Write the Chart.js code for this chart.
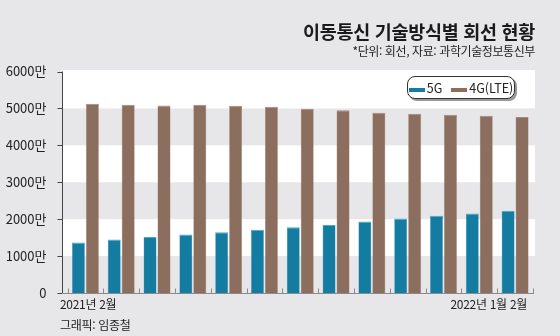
<!DOCTYPE html>
<html lang="ko">
<head>
<meta charset="utf-8">
<script src="https://cdn.jsdelivr.net/npm/chart.js@4"></script>
<style>
  html, body { margin: 0; padding: 0; }
  body { width: 560px; height: 336px; background: #e7e7e9; position: relative; overflow: hidden;
         font-family: "Noto Sans CJK KR", sans-serif; color: #222; }
  #wrap { position: absolute; left: 0; top: 0; width: 560px; height: 336px; }
  .txt { position: absolute; white-space: nowrap; }
  #title { right: 25px; top: 18px; font-size: 18.5px; font-weight: 700; letter-spacing: -0.3px; color: #1a1a1a; }
  #unit { right: 25px; top: 42px; font-size: 12px; letter-spacing: -0.4px; color: #222; }
  .xlab { top: 295px; font-size: 12px; font-family: "Liberation Sans Narrow", "Noto Sans CJK KR", sans-serif; letter-spacing: -0.3px; }
  #credit { left: 60px; top: 316px; font-size: 12px; letter-spacing: -0.3px; }
  #legend { position: absolute; left: 407px; top: 76px; width: 106px; height: 21px; background: #fff;
            border: 1.5px solid #333; border-radius: 8px; box-shadow: 2px 2px 0 #9a9a9a;
            display: flex; align-items: center; justify-content: center; gap: 9px;
            font-family: "Liberation Sans Narrow", "Noto Sans CJK KR", sans-serif; font-size: 12.5px; }
  #legend span.sw { display: inline-block; width: 16px; height: 4px; margin-right: 2px; vertical-align: middle; }
</style>
</head>
<body>
<div id="wrap"><canvas id="barChart" width="560" height="336"></canvas></div>
<div class="txt" id="title">이동통신 기술방식별 회선 현황</div>
<div class="txt" id="unit">*단위: 회선, 자료: 과학기술정보통신부</div>
<div class="txt xlab" id="xfirst"></div>
<div class="txt xlab" id="xlast"></div>
<div class="txt" id="credit">그래픽: 임종철</div>
<div id="legend"></div>
<script>
// 월별 회선 수 (단위: 만 회선)
const months = ['2021년 2월', '3월', '4월', '5월', '6월', '7월', '8월', '9월', '10월', '11월', '12월', '2022년 1월', '2월'];
const lines5G = [1366, 1448, 1515, 1584, 1648, 1714, 1781, 1843, 1935, 2018, 2091, 2156, 2227];
const linesLTE = [5128, 5102, 5076, 5100, 5074, 5048, 4994, 4948, 4886, 4858, 4830, 4804, 4768];
const yTicks = [0, 1000, 2000, 3000, 4000, 5000, 6000];

const seriesNames = ['5G', '4G(LTE)'];
const seriesColors = ['#147ba1', '#8b6e5d'];
const seriesBorders = ['#4aa9cf', '#a4887a'];

// 배경 흰 영역 + 회색 띠, 축선과 눈금
const framePlugin = {
    id: 'frame',
    beforeDatasetsDraw(chart) {
        const ctx = chart.ctx;
        const area = chart.chartArea;
        const y = chart.scales.y;
        const left = area.left - 5.5;
        const right = area.right + 2;
        ctx.save();
        ctx.fillStyle = '#ffffff';
        ctx.fillRect(left, y.getPixelForValue(6000) - 1.5, right - left, area.bottom - y.getPixelForValue(6000) + 1.5);
        ctx.fillStyle = '#e7e7e9';
        for (let i = 0; i < yTicks.length - 1; i += 2) {
            const top = y.getPixelForValue(yTicks[i + 1]);
            const bot = y.getPixelForValue(yTicks[i]);
            ctx.fillRect(left, top, right - left, bot - top);
        }
        ctx.restore();
    },
    afterDatasetsDraw(chart) {
        const ctx = chart.ctx;
        const area = chart.chartArea;
        const y = chart.scales.y;
        const left = Math.round(area.left - 5.5) + 0.5;
        ctx.save();
        ctx.lineWidth = 1;
        // y축
        ctx.strokeStyle = '#444';
        ctx.beginPath();
        ctx.moveTo(left, y.getPixelForValue(6000));
        ctx.lineTo(left, area.bottom);
        for (const v of yTicks) {
            const py = Math.round(y.getPixelForValue(v)) + 0.5;
            ctx.moveTo(left - 5, py);
            ctx.lineTo(left, py);
        }
        ctx.stroke();
        // x축과 월 경계 눈금
        ctx.strokeStyle = '#8a8a8a';
        const base = Math.round(area.bottom) + 0.5;
        ctx.beginPath();
        ctx.moveTo(left, base);
        ctx.lineTo(area.right + 1, base);
        const step = (area.right - area.left) / months.length;
        for (let i = 0; i <= months.length; i++) {
            const px = Math.round(area.left + i * step) + 0.5;
            ctx.moveTo(px, base);
            ctx.lineTo(px, base - 5);
        }
        ctx.stroke();
        ctx.restore();
    }
};

let ctx = document.getElementById('barChart').getContext('2d');
let chart = new Chart(ctx, {
    type: 'bar',
    data: {
        labels: months,
        datasets: [lines5G, linesLTE].map((d, i) => ({
            label: seriesNames[i],
            data: d,
            backgroundColor: seriesColors[i],
            borderColor: seriesBorders[i],
            borderWidth: { top: 1, left: 0.5, right: 0.5, bottom: 0 },
            borderSkipped: 'bottom',
            categoryPercentage: 0.78,
            barPercentage: 0.93
        }))
    },
    options: {
        responsive: false,
        animation: false,
        layout: { padding: { left: 0, top: 71.5, right: 27, bottom: 43 } },
        plugins: {
            legend: { display: false },
            tooltip: { enabled: false }
        },
        scales: {
            x: { display: false },
            y: {
                min: 0,
                max: 6000,
                afterFit: s => { s.width = 67.5; },
                afterBuildTicks: s => { s.ticks = yTicks.map(v => ({ value: v })); },
                grid: { display: false },
                border: { display: false },
                ticks: {
                    padding: 13,
                    color: '#222',
                    font: { family: '"Liberation Sans Narrow", "Noto Sans CJK KR", sans-serif', size: 13 },
                    callback: v => v === 0 ? '0' : v + '만'
                }
            }
        }
    },
    plugins: [framePlugin]
});

// 범례와 x축 양 끝 표기
let legend = document.getElementById('legend');
legend.innerHTML = chart.data.datasets.map(ds =>
    '<span><span class="sw" style="background:' + ds.backgroundColor + '"></span>' + ds.label + '</span>'
).join('');
document.getElementById('xfirst').textContent = months[0];
document.getElementById('xfirst').style.left = '60px';
let xlast = document.getElementById('xlast');
xlast.textContent = months[months.length - 2] + ' ' + months[months.length - 1];
xlast.style.right = '33px';
</script>
</body>
</html>
